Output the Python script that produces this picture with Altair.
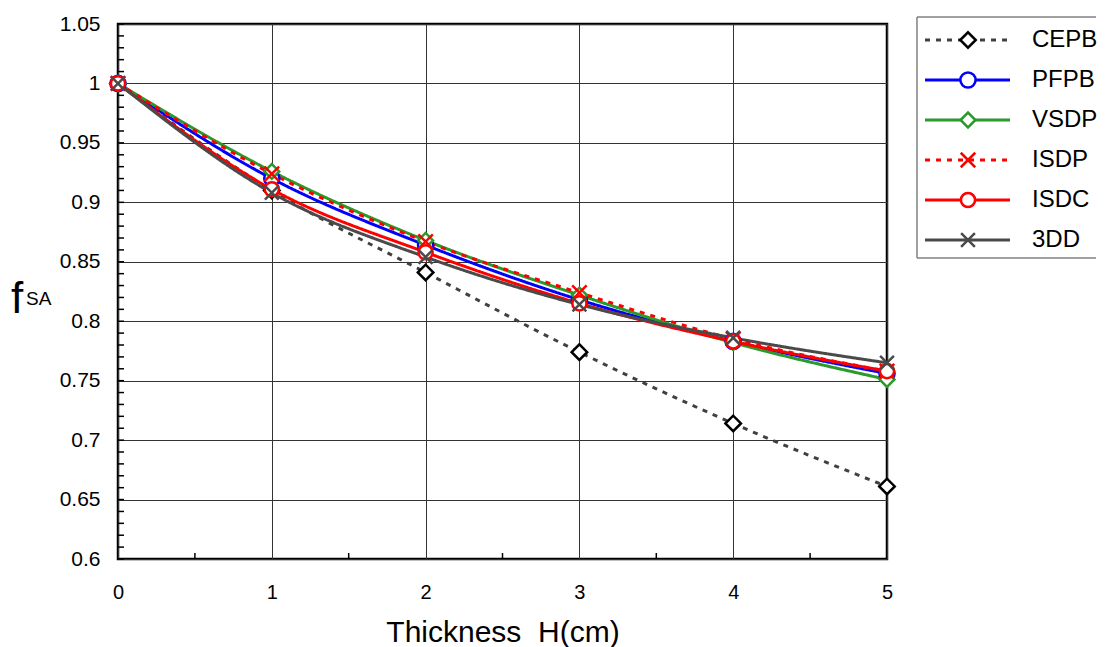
import altair as alt
import pandas as pd
import numpy as np

# ---- data ----
thickness = [0, 1, 2, 3, 4, 5]
series_names = ["CEPB", "PFPB", "VSDP", "ISDP", "ISDC", "3DD"]
CEPB = [1.000, 0.910, 0.841, 0.774, 0.714, 0.661]
PFPB = [1.000, 0.920, 0.864, 0.818, 0.783, 0.756]
VSDP = [1.000, 0.926, 0.868, 0.822, 0.782, 0.751]
ISDP = [1.000, 0.924, 0.867, 0.824, 0.785, 0.758]
ISDC = [1.000, 0.911, 0.858, 0.815, 0.783, 0.758]
DD3 = [1.000, 0.908, 0.854, 0.814, 0.786, 0.765]
y_ticks = [0.6, 0.65, 0.7, 0.75, 0.8, 0.85, 0.9, 0.95, 1.0, 1.05]
x_ticks = [0, 1, 2, 3, 4, 5]
y_minor = [round(v, 2) for v in np.arange(0.60, 1.0501, 0.01)]
x_minor = [0.5, 1.5, 2.5, 3.5, 4.5]

# ---- styles ----
line_colors = ["#404040", "#0000ff", "#2a9a2a", "#ff0000", "#ff0000", "#4a4a4a"]
marker_colors = ["#000000", "#0000ff", "#2a9a2a", "#ff0000", "#ff0000", "#4a4a4a"]
XPATH = "M-1,-1L1,1M-1,1L1,-1"
shapes = ["diamond", "circle", "diamond", XPATH, "circle", XPATH]
fills = ["#ffffff", "#ffffff", "#ffffff", "transparent", "#ffffff", "transparent"]
dashes = [[5, 6], [1, 0], [1, 0], [5, 6], [1, 0], [1, 0]]
sizes = [240, 190, 240, 270, 190, 270]

rows = []
for name, vals in zip(series_names, [CEPB, PFPB, VSDP, ISDP, ISDC, DD3]):
    for x, v in zip(thickness, vals):
        rows.append({"H": x, "f": v, "series": name})
df = pd.DataFrame(rows)

color_enc = alt.Color("series:N", scale=alt.Scale(domain=series_names, range=line_colors), legend=None)
dash_enc = alt.StrokeDash("series:N", scale=alt.Scale(domain=series_names, range=dashes), legend=None)
shape_enc = alt.Shape("series:N", scale=alt.Scale(domain=series_names, range=shapes), legend=None)
stroke_enc = alt.Stroke("series:N", scale=alt.Scale(domain=series_names, range=marker_colors), legend=None)
fill_enc = alt.Fill("series:N", scale=alt.Scale(domain=series_names, range=fills), legend=None)
size_enc = alt.Size("series:N", scale=alt.Scale(domain=series_names, range=sizes), legend=None)

W, H = 769, 535
xscale = alt.Scale(domain=[0, 5], nice=False)
yscale = alt.Scale(domain=[0.6, 1.05], nice=False, zero=False)

base = alt.Chart(df)

lines = base.mark_line(interpolate="monotone", strokeWidth=3).encode(
    x=alt.X("H:Q", scale=xscale,
            axis=alt.Axis(values=x_ticks, title="Thickness\u00a0\u00a0H(cm)", grid=True, gridColor="#333333",
                          gridWidth=1, ticks=False, domain=False, labelFontSize=20, labelFlush=False,
                          labelPadding=23, titleFontSize=30, titleFontWeight="normal",
                          titlePadding=15, labelColor="#000", titleColor="#000", format="d")),
    y=alt.Y("f:Q", scale=yscale,
            axis=alt.Axis(values=y_ticks, title=None, grid=True, gridColor="#333333", gridWidth=1,
                          ticks=False, domain=False, labelFontSize=21, labelPadding=18, labelFlush=False,
                          labelColor="#000", format=".2~f")),
    color=color_enc,
    strokeDash=dash_enc,
    order=alt.Order("H:Q"),
)

points = base.mark_point(filled=False, strokeWidth=2.5, opacity=1).encode(
    x=alt.X("H:Q", scale=xscale),
    y=alt.Y("f:Q", scale=yscale),
    shape=shape_enc,
    stroke=stroke_enc,
    fill=fill_enc,
    size=size_enc,
)

ytick_df = pd.DataFrame({"v": y_minor})
ymin_rules = alt.Chart(ytick_df).mark_rule(color="#000", strokeWidth=1.5).encode(
    y=alt.Y("v:Q", scale=yscale), x=alt.value(0), x2=alt.value(6)
)
xtick_df = pd.DataFrame({"v": x_minor})
xmin_rules = alt.Chart(xtick_df).mark_rule(color="#000", strokeWidth=1.5).encode(
    x=alt.X("v:Q", scale=xscale), y=alt.value(H), y2=alt.value(H - 6)
)

one = pd.DataFrame({"a": [0]})
f_text = alt.Chart(one).mark_text(text="f", fontSize=44, align="left", baseline="alphabetic",
                                  color="#000").encode(x=alt.value(-107), y=alt.value(289))
sa_text = alt.Chart(one).mark_text(text="SA", fontSize=19, align="left", baseline="alphabetic",
                                   color="#000").encode(x=alt.value(-92), y=alt.value(281))

main = alt.layer(ymin_rules, xmin_rules, lines, points, f_text, sa_text)

# ---- legend box, drawn at the right of the plot ----
LX0, LX1 = 799, 978
leg_df = pd.DataFrame({"series": series_names})
leg_y = alt.Y("series:N", scale=alt.Scale(type="point", domain=series_names, range=[16, 216], padding=0),
              axis=None)
box_fill = alt.Chart(one).mark_rect(fill="#ffffff", strokeWidth=0).encode(
    x=alt.value(LX0), x2=alt.value(LX1), y=alt.value(-7), y2=alt.value(234)
)
box_l = alt.Chart(one).mark_rule(color="#808080", strokeWidth=1.5).encode(
    x=alt.value(LX0), y=alt.value(-7), y2=alt.value(234))
box_t = alt.Chart(one).mark_rule(color="#808080", strokeWidth=1.5).encode(
    x=alt.value(LX0), x2=alt.value(LX1), y=alt.value(-7))
box_b = alt.Chart(one).mark_rule(color="#808080", strokeWidth=1.5).encode(
    x=alt.value(LX0), x2=alt.value(LX1), y=alt.value(234))
leg_lines = alt.Chart(leg_df).mark_rule(strokeWidth=3).encode(
    y=leg_y, x=alt.value(807), x2=alt.value(892), color=color_enc, strokeDash=dash_enc
)
leg_pts = alt.Chart(leg_df).mark_point(filled=False, strokeWidth=2.5, opacity=1).encode(
    y=leg_y, x=alt.value(850), shape=shape_enc, stroke=stroke_enc, fill=fill_enc, size=size_enc
)
leg_text = alt.Chart(leg_df).mark_text(align="left", baseline="middle", fontSize=24, color="#000").encode(
    y=leg_y, x=alt.value(914), text="series:N"
)
legend = alt.layer(box_fill, box_l, box_t, box_b, leg_lines, leg_pts, leg_text)

chart = alt.layer(main, legend).resolve_scale(y="independent").properties(
    width=W, height=H,
    view=alt.ViewBackground(stroke="#000", strokeWidth=2.5),
    padding={"left": 3, "top": 5, "right": 0, "bottom": 0},
).configure(font="Liberation Sans").configure_axis(labelFont="Liberation Sans", titleFont="Liberation Sans")

chart.save("out.html", embed_options={"renderer": "svg", "actions": False})
